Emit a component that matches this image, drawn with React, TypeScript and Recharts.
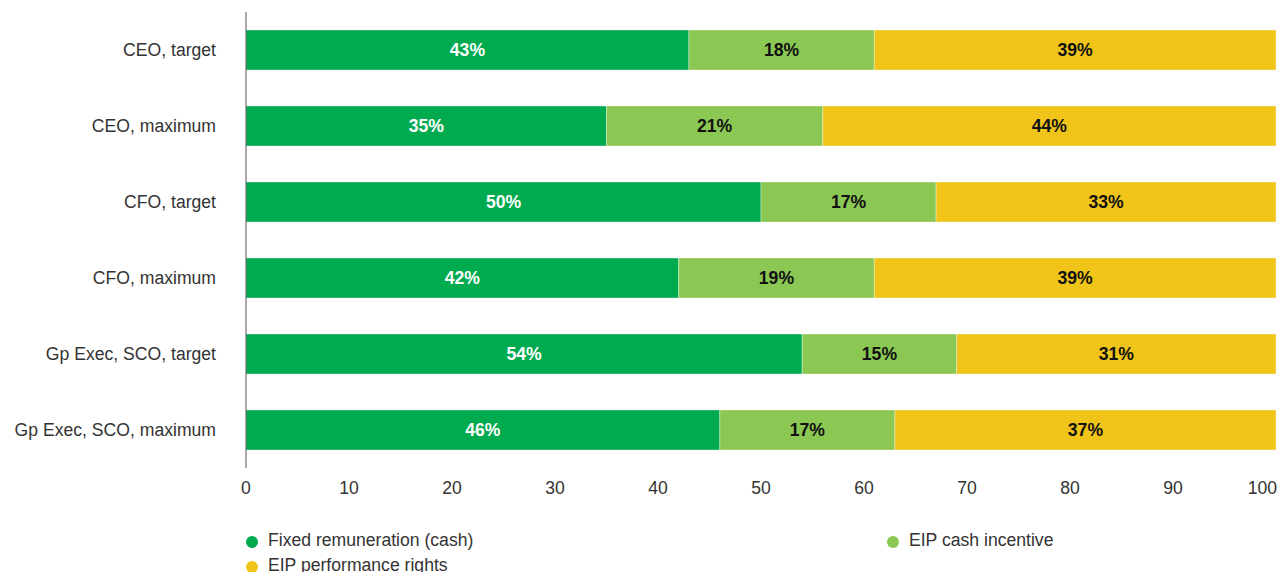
import React from "react";
import { BarChart, Bar, XAxis, YAxis, LabelList } from "recharts";

const categories = [
  "CEO, target",
  "CEO, maximum",
  "CFO, target",
  "CFO, maximum",
  "Gp Exec, SCO, target",
  "Gp Exec, SCO, maximum",
];
const fixedCash = [43, 35, 50, 42, 54, 46];
const eipCash = [18, 21, 17, 19, 15, 17];
const eipRights = [39, 44, 33, 39, 31, 37];
const xTicks = [0, 10, 20, 30, 40, 50, 60, 70, 80, 90, 100];

const series = [
  { key: "fixed", name: "Fixed remuneration (cash)", color: "#00aa4f", label: "#ffffff" },
  { key: "cash", name: "EIP cash incentive", color: "#8bc753", label: "#111111" },
  { key: "rights", name: "EIP performance rights", color: "#f0c419", label: "#111111" },
];

const data = categories.map((name, i) => ({
  name,
  fixed: fixedCash[i],
  cash: eipCash[i],
  rights: eipRights[i],
}));

const FONT = '"Liberation Sans", Arial, Helvetica, sans-serif';
const FS = 17.6;

function XTick(props: any) {
  const { x, y, payload } = props;
  const last = payload.value === 100;
  return (
    <text
      x={last ? x + 1 : x}
      y={y}
      dy={18}
      textAnchor={last ? "end" : "middle"}
      fill="#333"
      fontSize={FS}
      fontFamily={FONT}
    >
      {payload.value}
    </text>
  );
}

function YTick(props: any) {
  const { y, payload } = props;
  return (
    <text x={216} y={y} dy={6} textAnchor="end" fill="#333" fontSize={FS} fontFamily={FONT}>
      {payload.value}
    </text>
  );
}

const legendPos = [
  { left: 246, top: 530 },
  { left: 887, top: 530 },
  { left: 246, top: 555 },
];

export default function App() {
  return (
    <div style={{ position: "absolute", left: 0, top: 0, width: 1277, height: 572, fontFamily: FONT, background: "#fff" }}>
      <BarChart
        width={1277}
        height={510}
        data={data}
        layout="vertical"
        margin={{ top: 12, right: 1, left: 0, bottom: 0 }}
        barSize={40}
      >
        <XAxis
          type="number"
          domain={[0, 100]}
          ticks={xTicks}
          axisLine={false}
          tickLine={false}
          tick={<XTick />}
          height={42}
          interval={0}
        />
        <YAxis
          type="category"
          dataKey="name"
          width={246}
          tick={<YTick />}
          tickLine={false}
          axisLine={{ stroke: "#555", strokeWidth: 1 }}
          interval={0}
        />
        {series.map((s) => (
          <Bar key={s.key} dataKey={s.key} stackId="a" fill={s.color} stroke="#ffffff" strokeOpacity={0.35} strokeWidth={1} isAnimationActive={false}>
            <LabelList
              dataKey={s.key}
              position="center"
              formatter={(v: any) => `${v}%`}
              fill={s.label}
              fontSize={FS}
              fontWeight="bold"
              fontFamily={FONT}
            />
          </Bar>
        ))}
      </BarChart>
      {series.map((s, i) => (
        <div
          key={s.key}
          style={{
            position: "absolute",
            left: legendPos[i].left,
            top: legendPos[i].top,
            display: "flex",
            alignItems: "center",
            fontSize: FS,
            color: "#333",
            lineHeight: "20px",
            whiteSpace: "nowrap",
          }}
        >
          <span
            style={{
              display: "inline-block",
              width: 12,
              height: 12,
              borderRadius: 6,
              background: s.color,
              marginRight: 10,
              marginTop: 3,
            }}
          />
          {s.name}
        </div>
      ))}
    </div>
  );
}
